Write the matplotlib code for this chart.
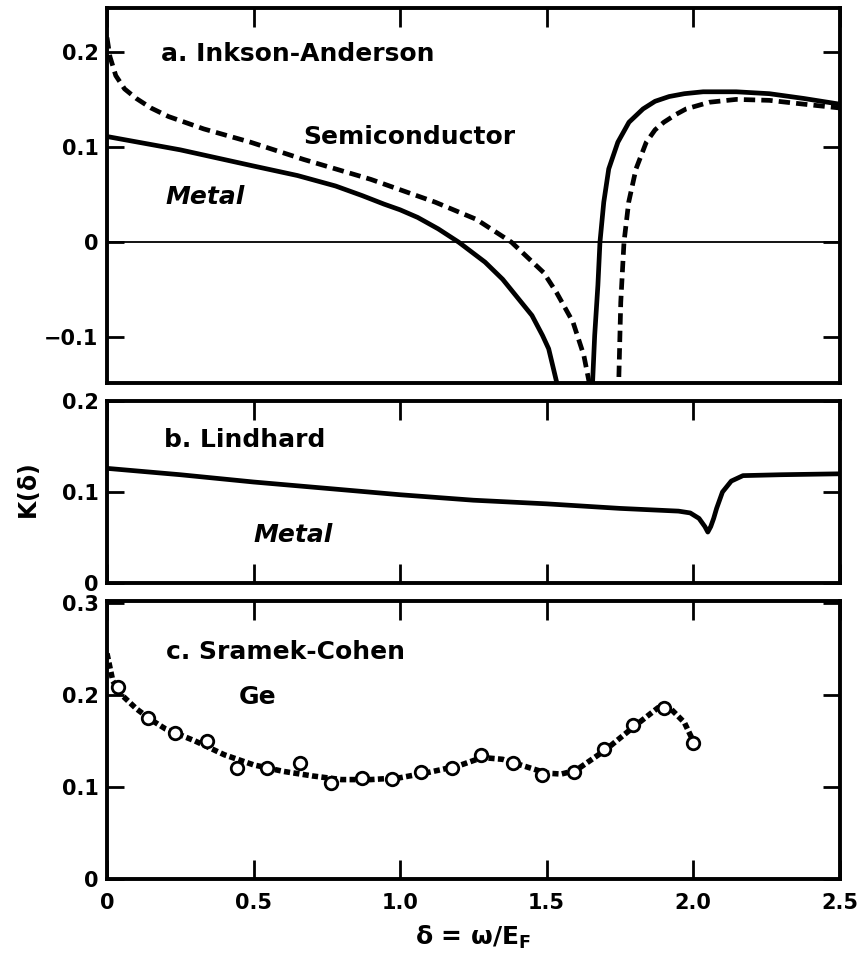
import numpy as np
import matplotlib.pyplot as plt

plt.rcParams['font.family'] = ['DejaVu Sans']
plt.rcParams['font.weight'] = 'bold'
plt.rcParams['axes.labelweight'] = 'bold'
plt.rcParams['mathtext.default'] = 'bf'

# a. Inkson-Anderson
metal_a1_x = [0.0, 0.25, 0.5, 0.65, 0.78, 0.87, 0.945, 1.0, 1.06, 1.13, 1.2, 1.29, 1.35, 1.40, 1.45, 1.486, 1.507, 1.535, 1.545]
metal_a1_y = [0.111, 0.097, 0.080, 0.070, 0.059, 0.049, 0.040, 0.034, 0.026, 0.014, 0.0, -0.021, -0.039, -0.058, -0.077, -0.098, -0.112, -0.148, -0.16]
metal_a2_x = [1.655, 1.664, 1.675, 1.682, 1.695, 1.712, 1.743, 1.781, 1.829, 1.87, 1.918, 1.97, 2.034, 2.147, 2.26, 2.377, 2.5]
metal_a2_y = [-0.16, -0.098, -0.045, 0.0, 0.042, 0.077, 0.105, 0.126, 0.140, 0.148, 0.153, 0.156, 0.158, 0.158, 0.156, 0.151, 0.145]
semi_a1_x = [0.0, 0.01, 0.03, 0.06, 0.1, 0.15, 0.21, 0.33, 0.49, 0.67, 0.9, 1.12, 1.26, 1.38, 1.49, 1.534, 1.59, 1.627, 1.645, 1.652]
semi_a1_y = [0.215, 0.195, 0.175, 0.161, 0.151, 0.141, 0.132, 0.119, 0.105, 0.087, 0.066, 0.042, 0.024, 0.0, -0.032, -0.053, -0.084, -0.119, -0.147, -0.16]
semi_a2_x = [1.745, 1.753, 1.764, 1.78, 1.805, 1.84, 1.87, 1.90, 1.94, 1.976, 2.055, 2.147, 2.26, 2.377, 2.5]
semi_a2_y = [-0.16, -0.063, 0.0, 0.042, 0.077, 0.105, 0.118, 0.126, 0.134, 0.140, 0.147, 0.150, 0.149, 0.145, 0.141]

# b. Lindhard
lind_x = [0.0, 0.25, 0.5, 0.75, 1.0, 1.25, 1.5, 1.75, 1.95, 1.99, 2.02, 2.04, 2.05, 2.06, 2.07, 2.08, 2.10, 2.13, 2.17, 2.3, 2.5]
lind_y = [0.126, 0.119, 0.111, 0.104, 0.097, 0.091, 0.087, 0.082, 0.079, 0.077, 0.071, 0.062, 0.056, 0.062, 0.071, 0.082, 0.100, 0.112, 0.118, 0.119, 0.120]

# c. Sramek-Cohen (Ge)
ge_pts_x = [0.039, 0.139, 0.233, 0.34, 0.444, 0.545, 0.659, 0.766, 0.869, 0.973,
            1.072, 1.176, 1.276, 1.385, 1.485, 1.592, 1.695, 1.794, 1.90, 2.0]
ge_pts_y = [0.209, 0.175, 0.159, 0.150, 0.121, 0.121, 0.126, 0.104, 0.110, 0.109,
            0.116, 0.121, 0.135, 0.126, 0.1125, 0.116, 0.141, 0.167, 0.186, 0.148]
ge_line_x = [0.0, 0.02, 0.05, 0.1, 0.15, 0.2, 0.3, 0.4, 0.5, 0.6, 0.7, 0.8, 0.9, 1.0,
             1.1, 1.2, 1.28, 1.35, 1.45, 1.5, 1.55, 1.6, 1.7, 1.8, 1.88, 1.92, 1.97, 2.0]
ge_line_y = [0.245, 0.215, 0.200, 0.185, 0.173, 0.163, 0.150, 0.135, 0.124, 0.117, 0.112, 0.108, 0.108, 0.110,
             0.116, 0.123, 0.132, 0.130, 0.120, 0.115, 0.114, 0.118, 0.140, 0.166, 0.186, 0.186, 0.170, 0.150]

x_ticks = [0, 0.5, 1.0, 1.5, 2.0, 2.5]
x_tick_labels = ['0', '0.5', '1.0', '1.5', '2.0', '2.5']

fig = plt.figure(figsize=(8.6, 9.67), dpi=100)
ax_a = fig.add_axes([0.1244, 0.6039, 0.852, 0.3878])
ax_b = fig.add_axes([0.1244, 0.3971, 0.852, 0.1882])
ax_c = fig.add_axes([0.1244, 0.0910, 0.852, 0.2875])

lw = 3.4
for ax in (ax_a, ax_b, ax_c):
    ax.set_xlim(0, 2.5)
    ax.set_xticks(x_ticks)
    for s in ax.spines.values():
        s.set_linewidth(2.8)
    ax.tick_params(axis='x', direction='in', length=14, width=2, top=True, bottom=True,
                   labelbottom=False, labelsize=15)
    ax.tick_params(axis='y', direction='in', length=12, width=2, left=True, right=True,
                   labelsize=15, pad=6)

# panel a
ax_a.set_ylim(-0.148, 0.246)
ax_a.set_yticks([-0.1, 0, 0.1, 0.2])
ax_a.set_yticklabels(['\u22120.1', '0', '0.1', '0.2'])
ax_a.tick_params(axis='x', bottom=False)
ax_a.axhline(0, color='black', lw=1.3)
ax_a.plot(metal_a1_x, metal_a1_y, color='black', lw=lw, solid_joinstyle='round')
ax_a.plot(metal_a2_x, metal_a2_y, color='black', lw=lw, solid_joinstyle='round')
ax_a.plot(semi_a1_x, semi_a1_y, color='black', lw=lw, dashes=(2.4, 1.3))
ax_a.plot(semi_a2_x, semi_a2_y, color='black', lw=lw, dashes=(2.4, 1.3))
ax_a.text(0.185, 0.198, 'a. Inkson-Anderson', fontsize=18, va='center')
ax_a.text(0.67, 0.11, 'Semiconductor', fontsize=18, va='center')
ax_a.text(0.2, 0.047, 'Metal', fontsize=18, va='center', style='italic')

# panel b
ax_b.set_ylim(0, 0.2)
ax_b.set_yticks([0, 0.1, 0.2])
ax_b.set_yticklabels(['0', '0.1', '0.2'])
ax_b.plot(lind_x, lind_y, color='black', lw=lw, solid_joinstyle='round')
ax_b.text(0.195, 0.157, 'b. Lindhard', fontsize=18, va='center')
ax_b.text(0.5, 0.053, 'Metal', fontsize=18, va='center', style='italic')
ax_b.set_ylabel('K($\\delta$)', fontsize=17, labelpad=14, fontweight='bold')

# panel c
ax_c.set_ylim(0, 0.302)
ax_c.set_yticks([0, 0.1, 0.2, 0.3])
ax_c.set_yticklabels(['0', '0.1', '0.2', '0.3'])
ax_c.tick_params(axis='x', labelbottom=True, pad=10)
ax_c.set_xticklabels(x_tick_labels)
ax_c.plot(ge_line_x, ge_line_y, color='black', lw=4, dashes=(1.1, 0.6))
ax_c.plot(ge_pts_x, ge_pts_y, 'o', color='black', mfc='white', ms=9, mew=2)
ax_c.text(0.2, 0.247, 'c. Sramek-Cohen', fontsize=18, va='center')
ax_c.text(0.45, 0.198, 'Ge', fontsize=18, va='center')
ax_c.set_xlabel('$\\delta$ = $\\omega$/E$_{\\rm F}$', fontsize=18, labelpad=8, fontweight='bold')

fig.savefig('out.png', dpi=100)
